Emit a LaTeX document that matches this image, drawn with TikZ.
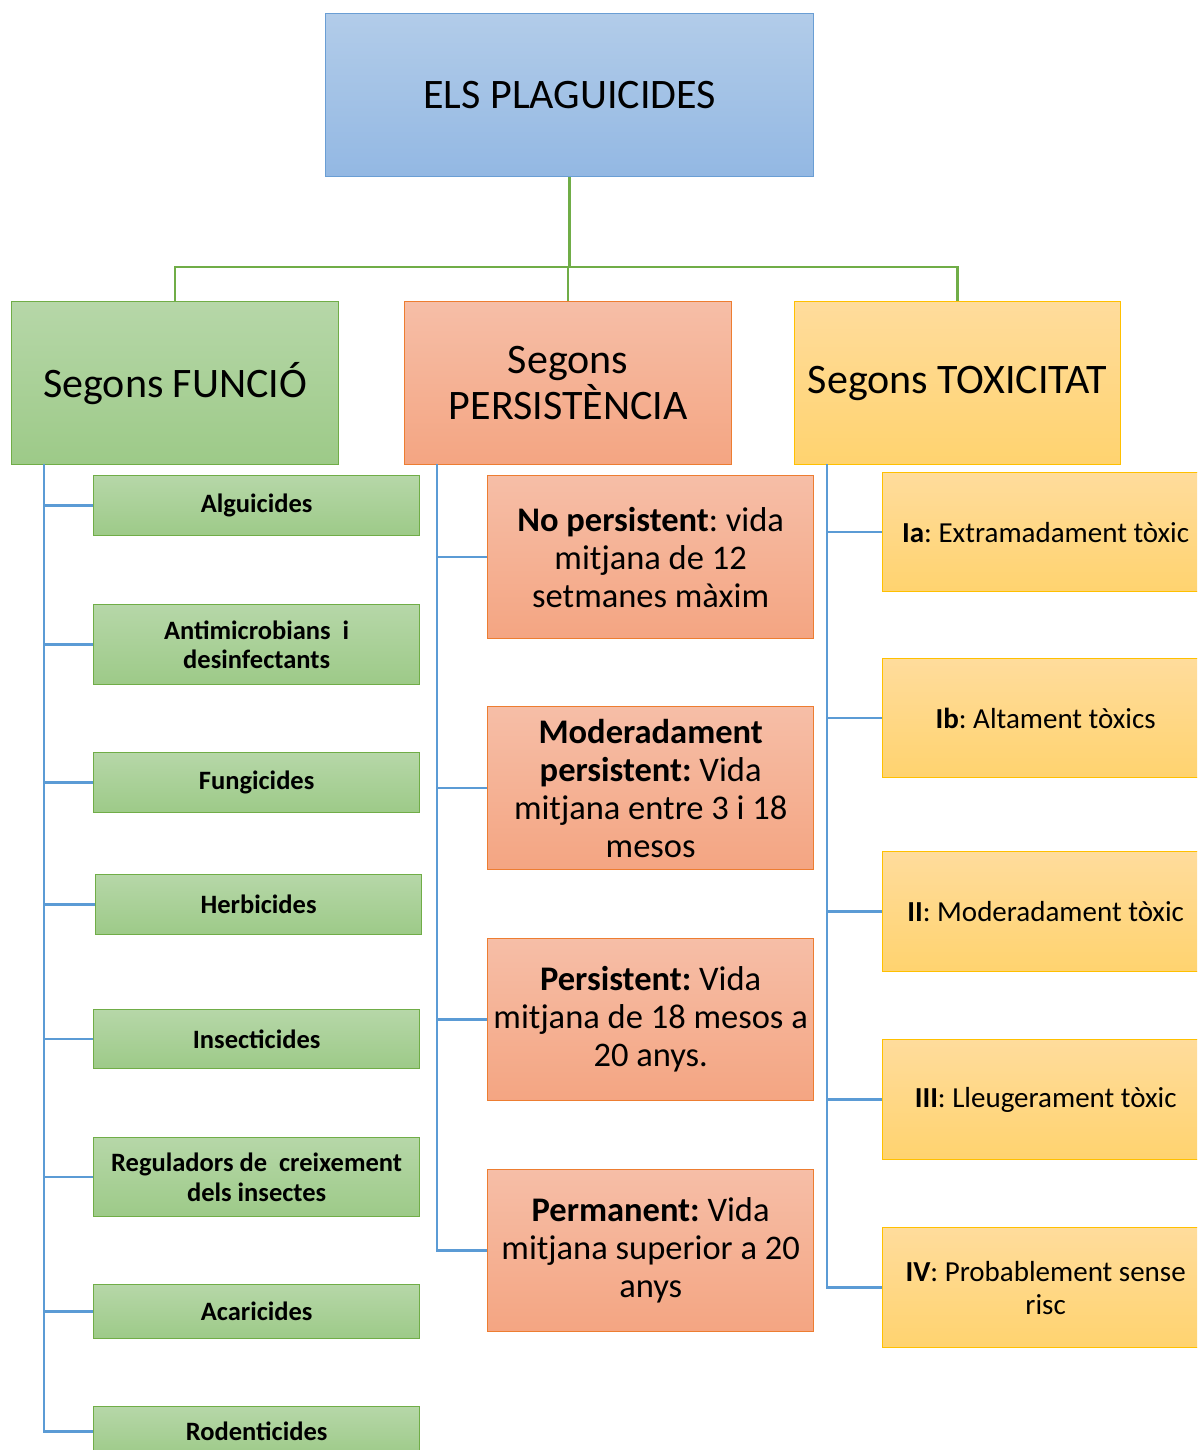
\documentclass[tikz,border=0pt]{standalone}
\usepackage{fontspec}
\setmainfont{Carlito}
\definecolor{bTop}{HTML}{B2CCE9}
\definecolor{bBot}{HTML}{93B8E3}
\definecolor{bLine}{HTML}{6A9ED4}
\definecolor{gTop}{HTML}{B6D7A8}
\definecolor{gBot}{HTML}{9DCA88}
\definecolor{gLine}{HTML}{70AD47}
\definecolor{oTop}{HTML}{F6BEA7}
\definecolor{oBot}{HTML}{F4A582}
\definecolor{oLine}{HTML}{ED7D31}
\definecolor{yTop}{HTML}{FFDC9C}
\definecolor{yBot}{HTML}{FFD36F}
\definecolor{yLine}{HTML}{FFC000}
\definecolor{conB}{HTML}{5B9BD5}
\tikzset{
  box/.style={draw, line width=1.3pt, inner sep=1pt, align=center, anchor=north west, text=black},
  bluebox/.style={box, top color=bTop, bottom color=bBot, draw=bLine},
  greenbox/.style={box, top color=gTop, bottom color=gBot, draw=gLine},
  orangebox/.style={box, top color=oTop, bottom color=oBot, draw=oLine},
  yellowbox/.style={box, top color=yTop, bottom color=yBot, draw=yLine},
  bigtxt/.style={font=\fontsize{42}{46}\selectfont},
  gtxt/.style={font=\fontsize{26.5}{29.5}\selectfont\bfseries},
  otxt/.style={font=\fontsize{34.5}{38}\selectfont\frenchspacing},
  ytxt/.style={font=\fontsize{29}{33}\selectfont\frenchspacing},
  gconn/.style={draw=gLine, line width=2.6pt},
  bconn/.style={draw=conB, line width=2.6pt},
}
\begin{document}
\frenchspacing
\begin{tikzpicture}[x=1pt, y=-1pt]
\clip (0,0) rectangle (1197,1450);
\fill[white] (0,0) rectangle (1197,1450);

% root
\node[bluebox, bigtxt, minimum width=488pt, minimum height=163pt] (root) at (325,13) {ELS PLAGUICIDES};

% level 2
\node[greenbox, bigtxt, minimum width=327pt, minimum height=163pt] (fun) at (11,301) {Segons FUNCIÓ};
\node[orangebox, bigtxt, minimum width=327pt, minimum height=163pt] (per) at (404,301) {Segons\\PERSISTÈNCIA};
\node[yellowbox, bigtxt, minimum width=326pt, minimum height=163pt] (tox) at (794,301) {Segons TOXICITAT};

% connectors top
\draw[gconn] (root.south) -- ++(0,91);
\draw[gconn] (fun.north) -- ++(0,-34) -| (tox.north);
\draw[gconn] (per.north) -- ++(0,-34);

% left column
\node[greenbox, gtxt, minimum width=326pt, minimum height=60pt] (alg) at (93,475) {Alguicides};
\node[greenbox, gtxt, minimum width=326pt, minimum height=80pt] (ant) at (93,604) {Antimicrobians~~i\\desinfectants};
\node[greenbox, gtxt, minimum width=326pt, minimum height=60pt] (fung) at (93,752) {Fungicides};
\node[greenbox, gtxt, minimum width=326pt, minimum height=60pt] (herb) at (95,874) {Herbicides};
\node[greenbox, gtxt, minimum width=326pt, minimum height=59pt] (ins) at (93,1009) {Insecticides};
\node[greenbox, gtxt, minimum width=326pt, minimum height=79pt] (reg) at (93,1137) {Reguladors de~~creixement\\dels insectes};
\node[greenbox, gtxt, minimum width=326pt, minimum height=54pt] (aca) at (93,1284) {Acaricides};
\node[greenbox, gtxt, minimum width=326pt, minimum height=50pt] (rod) at (93,1406) {Rodenticides};

\coordinate (fl) at (44,464);
\draw[bconn] (fl) -- (fl |- rod.west) -- (rod.west);
\foreach \n in {alg,ant,fung,herb,ins,reg,aca}
  \draw[bconn] (fl |- \n.west) -- (\n.west);

% middle column
\node[orangebox, otxt, minimum width=326pt, minimum height=163pt] (np) at (487,475) {\textbf{No persistent}: vida\\mitjana de 12\\setmanes màxim};
\node[orangebox, otxt, minimum width=326pt, minimum height=163pt] (mp) at (487,706) {\textbf{Moderadament}\\\textbf{persistent:} Vida\\mitjana entre 3 i 18\\mesos};
\node[orangebox, otxt, minimum width=326pt, minimum height=162pt] (pp) at (487,938) {\textbf{Persistent:} Vida\\mitjana de 18 mesos a\\20 anys.};
\node[orangebox, otxt, minimum width=326pt, minimum height=162pt] (pm) at (487,1169) {\textbf{Permanent:} Vida\\mitjana superior a 20\\anys};

\coordinate (ml) at (437,464);
\draw[bconn] (ml) -- (ml |- pm.west) -- (pm.west);
\foreach \n in {np,mp,pp}
  \draw[bconn] (ml |- \n.west) -- (\n.west);

% right column
\node[yellowbox, ytxt, minimum width=326pt, minimum height=119pt] (ia) at (882,472) {\textbf{Ia}: Extramadament tòxic};
\node[yellowbox, ytxt, minimum width=326pt, minimum height=119pt] (ib) at (882,658) {\textbf{Ib}: Altament tòxics};
\node[yellowbox, ytxt, minimum width=326pt, minimum height=120pt] (ii) at (882,851) {\textbf{II}: Moderadament tòxic};
\node[yellowbox, ytxt, minimum width=326pt, minimum height=120pt] (iii) at (882,1039) {\textbf{III}: Lleugerament tòxic};
\node[yellowbox, ytxt, minimum width=326pt, minimum height=120pt] (iv) at (882,1227) {\textbf{IV}: Probablement sense\\risc};

\coordinate (rl) at (827,464);
\draw[bconn] (rl) -- (rl |- iv.west) -- (iv.west);
\foreach \n in {ia,ib,ii,iii}
  \draw[bconn] (rl |- \n.west) -- (\n.west);
\end{tikzpicture}
\end{document}
